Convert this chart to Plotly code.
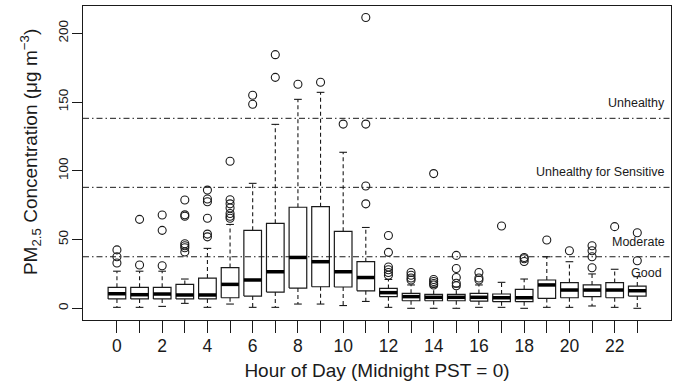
import plotly.graph_objects as go

# ---------------- data ----------------
hours = list(range(24))
whisker_low = [0.7, 0.7, 1.4, 3.6, 0.7, 3.1, 0.7, 0.7, 3.1, 3.1, 2.0, 5.0,
               0.7, 0.0, 0.0, 0.0, 0.7, 0.7, 0.0, 0.7, 0.7, 1.7, 0.7, 0.0]
q1 = [6.8, 6.8, 6.8, 6.8, 6.8, 7.7, 8.9, 11.8, 14.7, 15.7, 15.5, 12.7,
      8.5, 5.5, 5.5, 5.5, 5.3, 4.8, 4.8, 7.2, 7.7, 8.5, 7.7, 8.9]
median = [10.6, 9.9, 10.4, 9.7, 9.7, 17.4, 20.6, 26.6, 37.0, 33.9, 26.6, 22.4,
          11.4, 8.5, 8.0, 8.0, 8.0, 7.7, 7.7, 17.0, 13.3, 13.3, 13.3, 12.8]
q3 = [15.3, 15.3, 15.3, 17.4, 22.0, 29.6, 56.7, 61.8, 73.5, 73.9, 56.0, 33.9,
      14.5, 10.9, 10.2, 10.2, 10.8, 10.4, 13.8, 20.6, 18.7, 17.0, 18.7, 16.2]
whisker_high = [27.0, 27.0, 27.0, 21.3, 43.6, 61.0, 90.9, 133.8, 152.0, 157.1, 113.5, 58.8,
                21.0, 17.0, 15.5, 15.5, 17.0, 18.9, 21.3, 37.5, 33.9, 25.0, 28.4, 23.0]
outliers = [
    [33.0, 37.5, 42.5],
    [31.5, 64.7],
    [31.0, 56.7, 67.9],
    [41.0, 44.0, 45.5, 47.0, 67.0, 68.0, 78.8],
    [52.0, 54.0, 65.5, 77.5, 79.5, 86.0],
    [65.5, 67.0, 69.0, 73.0, 76.0, 79.0, 107.0],
    [148.4, 155.0],
    [168.0, 184.5],
    [163.0],
    [164.4],
    [134.0],
    [76.0, 89.0, 134.0, 211.5],
    [24.0, 26.0, 28.0, 30.0, 40.7, 53.0],
    [20.6, 22.0, 24.0, 26.0],
    [17.0, 18.0, 19.5, 21.0, 98.0],
    [16.4, 18.2, 22.4, 29.0, 38.5],
    [20.6, 22.0, 26.0],
    [59.9],
    [34.0, 36.0, 37.0],
    [49.7],
    [41.9],
    [29.5, 37.5, 41.9, 45.5],
    [59.4],
    [34.6, 55.0],
]
thresholds = [37.5, 88.0, 138.2]
threshold_labels = ["Moderate", "Unhealthy for Sensitive", "Unhealthy"]
below_label = "Good"
labelled_hours = [h for h in hours if h % 2 == 0]
unlabelled_hours = [h for h in hours if h % 2 == 1]
y_ticks = [0, 50, 100, 150, 200]
x_title = "Hour of Day (Midnight PST = 0)"
y_title = "PM<sub>2.5</sub> Concentration (μg m<sup>−3</sup>)"

# ---------------- styling ----------------
INK = "#1a1a1a"
FONT = "Liberation Sans, Arial, Helvetica, sans-serif"
BOX_HALF = 0.39
CAP_HALF = 0.17

bx, by, mx, my, wx, wy, cx, cy, ox, oy = [], [], [], [], [], [], [], [], [], []
for i, h in enumerate(hours):
    x0, x1 = h - BOX_HALF, h + BOX_HALF
    bx += [x0, x1, x1, x0, x0, None]
    by += [q1[i], q1[i], q3[i], q3[i], q1[i], None]
    mx += [x0, x1, None]
    my += [median[i], median[i], None]
    wx += [h, h, None, h, h, None]
    wy += [q1[i], whisker_low[i], None, q3[i], whisker_high[i], None]
    cx += [h - CAP_HALF, h + CAP_HALF, None, h - CAP_HALF, h + CAP_HALF, None]
    cy += [whisker_low[i], whisker_low[i], None, whisker_high[i], whisker_high[i], None]
    for v in outliers[i]:
        ox.append(h)
        oy.append(v)

fig = go.Figure()
fig.add_trace(go.Scatter(x=wx, y=wy, mode="lines",
                         line=dict(color=INK, width=1.1, dash="4px,3px"), hoverinfo="skip"))
fig.add_trace(go.Scatter(x=cx, y=cy, mode="lines",
                         line=dict(color=INK, width=1.1), hoverinfo="skip"))
fig.add_trace(go.Scatter(x=bx, y=by, mode="lines",
                         line=dict(color=INK, width=1.2), hoverinfo="skip"))
fig.add_trace(go.Scatter(x=mx, y=my, mode="lines",
                         line=dict(color="black", width=3.5), hoverinfo="skip"))
fig.add_trace(go.Scatter(x=ox, y=oy, mode="markers",
                         marker=dict(symbol="circle-open", size=8, color=INK,
                                     line=dict(width=1.1, color=INK)),
                         hoverinfo="skip"))

for t in thresholds:
    fig.add_hline(y=t, line=dict(color=INK, width=1, dash="6px,3px,1.5px,3px"), layer="below")

for t, lab in zip(thresholds, threshold_labels):
    fig.add_annotation(x=0.993, xref="paper", y=t, yref="y", text=lab, showarrow=False,
                       xanchor="right", yanchor="middle", yshift=15,
                       font=dict(family=FONT, size=12.5, color=INK))
fig.add_annotation(x=0.988, xref="paper", y=thresholds[0], yref="y", text=below_label,
                   showarrow=False, xanchor="right", yanchor="middle", yshift=-16,
                   font=dict(family=FONT, size=12.5, color=INK))

# y-axis title as a rotated annotation for precise placement
fig.add_annotation(x=-0.09, xref="paper", y=0.535, yref="paper", text=y_title,
                   showarrow=False, textangle=-90, xanchor="center", yanchor="middle",
                   font=dict(family=FONT, size=19, color=INK))

fig.update_layout(
    width=675, height=386,
    margin=dict(l=83, r=4, t=6, b=66),
    paper_bgcolor="white", plot_bgcolor="white",
    showlegend=False,
    font=dict(family=FONT, color=INK),
    xaxis=dict(
        range=[-1.5, 24.49], tickmode="array", tickvals=labelled_hours,
        ticks="outside", ticklen=12, tickwidth=1, tickcolor=INK,
        minor=dict(tickmode="array", tickvals=unlabelled_hours, ticks="outside", ticklen=12,
                   tickwidth=1, tickcolor=INK, showgrid=False),
        showline=True, linecolor=INK, linewidth=1, mirror=True,
        showgrid=False, zeroline=False,
        tickfont=dict(size=17.5, family=FONT, color=INK),
        ticklabelstandoff=-2,
        title=dict(text=x_title, font=dict(size=19, family=FONT, color=INK), standoff=8),
    ),
    yaxis=dict(
        range=[-8.5, 219.9], tickmode="array", tickvals=y_ticks,
        ticks="outside", ticklen=10, tickwidth=1, tickcolor=INK,
        showline=True, linecolor=INK, linewidth=1, mirror=True,
        showgrid=False, zeroline=False, tickangle=-90,
        tickfont=dict(size=13.5, family=FONT, color=INK),
        ticklabelstandoff=-1,
    ),
)

fig.write_html("out.html")
